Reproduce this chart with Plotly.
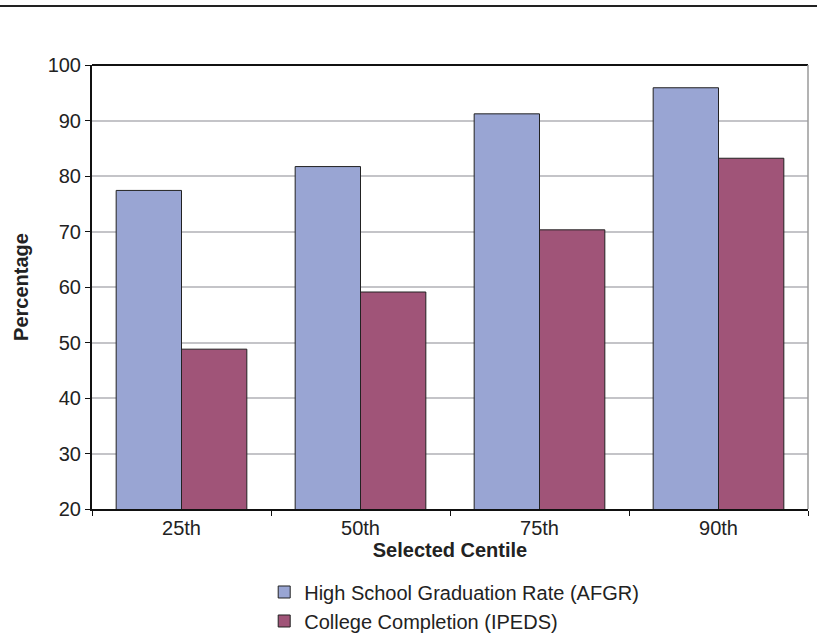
import plotly.graph_objects as go

categories = ["25th", "50th", "75th", "90th"]
hs_grad = [77.4, 81.7, 91.2, 95.9]
college = [48.8, 59.1, 70.3, 83.2]
series_names = ["High School Graduation Rate (AFGR)", "College Completion (IPEDS)"]

FONT = "Liberation Sans, Arial, sans-serif"

fig = go.Figure()
fig.add_trace(go.Bar(x=categories, y=hs_grad, name=series_names[0],
                     marker=dict(color="#99A5D3", line=dict(color="#222222", width=1))))
fig.add_trace(go.Bar(x=categories, y=college, name=series_names[1],
                     marker=dict(color="#A05478", line=dict(color="#222222", width=1))))

fig.update_layout(
    width=817, height=635,
    margin=dict(l=92, r=9, t=65, b=126, autoexpand=False),
    paper_bgcolor="white", plot_bgcolor="white",
    barmode="group", bargap=0.27, bargroupgap=0,
    font=dict(family=FONT, size=20, color="#222222"),
    showlegend=True,
    legend=dict(orientation="v", x=0.2405, xanchor="left", y=-0.143, yanchor="top",
                font=dict(size=20), tracegroupgap=0, itemwidth=30),
    xaxis=dict(
        title=dict(text="<b>Selected Centile</b>", font=dict(size=20), standoff=4),
        automargin=False,
        showline=True, linecolor="#111111", linewidth=2, mirror=False,
        ticks="outside", tickson="boundaries", ticklen=5, tickcolor="#111111",
        tickfont=dict(size=20), showgrid=False,
    ),
    yaxis=dict(
        title=dict(text="<b>Percentage</b>", font=dict(size=20), standoff=14),
        automargin=False,
        range=[20, 100], dtick=10, tick0=20,
        showline=True, linecolor="#111111", linewidth=2,
        ticks="outside", ticklen=5, tickcolor="#111111",
        tickfont=dict(size=20),
        showgrid=True, gridcolor="#C4C4C8", gridwidth=1.5,
        zeroline=False,
    ),
    shapes=[
        dict(type="line", xref="paper", yref="paper", x0=0, x1=1, y0=1, y1=1,
             line=dict(color="#111111", width=2)),
        dict(type="line", xref="paper", yref="paper", x0=1, x1=1, y0=0, y1=1,
             line=dict(color="#9A9A9A", width=1.5)),
        dict(type="line", xref="paper", yref="paper", x0=-0.13, x1=1.02, y0=1.133, y1=1.133,
             line=dict(color="#222222", width=2)),
    ],
)

fig.write_html("out.html", config={"displayModeBar": False},
               post_script="document.body.style.margin='0';document.body.style.overflow='hidden';")
